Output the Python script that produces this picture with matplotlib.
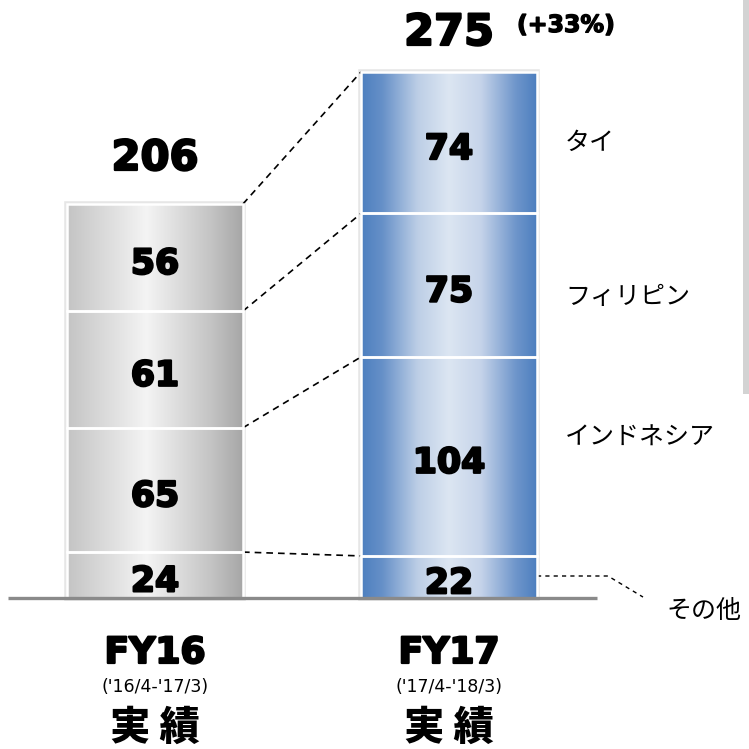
import numpy as np
import matplotlib
matplotlib.use("Agg")
import matplotlib.pyplot as plt
import matplotlib.patheffects as pe
from matplotlib.colors import LinearSegmentedColormap
from matplotlib.patches import Rectangle

plt.rcParams['font.family'] = ['Noto Sans CJK JP', 'DejaVu Sans']
NUMF = ['DejaVu Sans']
heavy = [pe.withStroke(linewidth=1.6, foreground="black")]

# data
years = ["FY16", "FY17"]
periods = ["('16/4-'17/3)", "('17/4-'18/3)"]
segments = ["その他", "インドネシア", "フィリピン", "タイ"]
fy16 = [24, 65, 61, 56]
fy17 = [22, 104, 75, 74]
growth = "(+33%)"

# pixel layout -> data units (baseline at px 598, 1.913 px per unit)
PX = 749
base_px = 598
ppu = 1.913
x0_px, dx_px = 155, 294

fig = plt.figure(figsize=(7.49, 7.49), dpi=100)
ax = fig.add_axes([0, 0, 1, 1])
ax.set_xlim(-x0_px / dx_px, (PX - x0_px) / dx_px)
ax.set_ylim(-(PX - base_px) / ppu, base_px / ppu)
ax.axis("off")

def px_x(p):
    return (p - x0_px) / dx_px

def px_y(p):
    return (base_px - p) / ppu

grey_cm = LinearSegmentedColormap.from_list(
    "g", [(0, "#c4c4c4"), (0.45, "#f4f4f4"), (0.8, "#c6c6c6"), (1, "#a6a6a6")])
blue_cm = LinearSegmentedColormap.from_list(
    "b", [(0, "#4d7fbf"), (0.12, "#6690c8"), (0.32, "#bccee6"), (0.5, "#dce6f2"),
          (0.68, "#c6d4ea"), (0.88, "#6f96cb"), (1, "#4d7fbf")])

width = 176 / dx_px
grad = np.linspace(0, 1, 256).reshape(1, -1)

for i, (vals, cm) in enumerate([(fy16, grey_cm), (fy17, blue_cm)]):
    bottoms = np.concatenate([[0], np.cumsum(vals)[:-1]])
    total = sum(vals)
    # soft shadow
    ax.add_patch(Rectangle((i - width / 2, 0), width, total, facecolor="none",
                           edgecolor="#e6e6e6", lw=4, zorder=1))
    bars = ax.bar(i, vals, width, bottom=bottoms, color="none",
                  edgecolor="white", linewidth=1.8, zorder=3)
    for b in bars:
        im = ax.imshow(grad, cmap=cm, aspect="auto", zorder=2,
                       extent=[i - width / 2, i + width / 2, 0, total])
        im.set_clip_path(b)
    for v, bt in zip(vals, bottoms):
        ax.text(i, bt + v / 2 - 1.5, str(v), ha="center", va="center_baseline",
                fontsize=25, fontweight="bold", family=NUMF, zorder=4,
                path_effects=heavy)

# totals
ax.text(0, px_y(170), str(sum(fy16)), ha="center", va="baseline",
        fontsize=30, fontweight="bold", family=NUMF, path_effects=heavy)
ax.text(1, px_y(45), str(sum(fy17)), ha="center", va="baseline",
        fontsize=31, fontweight="bold", family=NUMF, path_effects=heavy)
ax.text(px_x(517), px_y(32), growth, ha="left", va="baseline",
        fontsize=17, fontweight="bold", family=NUMF,
        path_effects=[pe.withStroke(linewidth=1.0, foreground="black")])

# dashed connectors between bars
c16 = np.cumsum(fy16)
c17 = np.cumsum(fy17)
for a, b in zip(c16, c17):
    ax.plot([width / 2, 1 - width / 2], [a, b], color="black", lw=1.2,
            ls=(0, (4, 3)), zorder=1)

# segment labels on right
lab_x = px_x(565)
bot17 = np.concatenate([[0], c17[:-1]])
offs = [0, 10, -6, 0]
for name, v, bt, o in zip(segments[1:], fy17[1:], bot17[1:], offs[1:]):
    ax.text(lab_x, bt + v / 2 + o, name, ha="left", va="center", fontsize=18)

# その他 leader
ax.plot([1 + width / 2, px_x(608), px_x(643)],
        [fy17[0] * 0.5 + 0.5, fy17[0] * 0.5 + 0.5, 0.5],
        color="black", lw=1.0, ls=(0, (3, 3)), zorder=1)
ax.text(px_x(666), px_y(611), segments[0], ha="left", va="center", fontsize=18)

# baseline
ax.plot([px_x(8), px_x(597)], [0, 0], color="#8a8a8a", lw=2.4, zorder=5,
        solid_capstyle="butt")

# x labels
for i in range(2):
    ax.text(i, px_y(663), years[i], ha="center", va="baseline",
            fontsize=26, fontweight="bold", family=NUMF, path_effects=heavy)
    ax.text(i, px_y(692), periods[i], ha="center", va="baseline",
            fontsize=12.5, family=['DejaVu Sans'])
    ax.text(i, px_y(728), "実 績", ha="center", va="center",
            fontsize=29, fontweight="heavy")

# grey strip at right edge
fig.patches.append(Rectangle((743 / PX, 1 - 394 / PX), 6 / PX, 394 / PX,
                             transform=fig.transFigure, facecolor="#d3d3d3",
                             edgecolor="none"))

fig.savefig("out.png", dpi=100)
